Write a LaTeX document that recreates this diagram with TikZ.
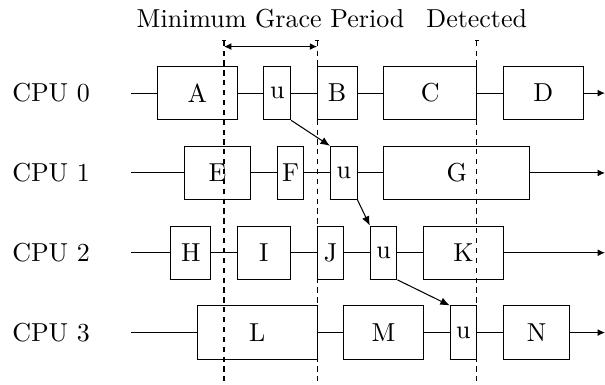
\documentclass[tikz,border=0pt]{standalone}
\usepackage{tikz}
\usetikzlibrary{arrows.meta, positioning}
\tikzset{
    box_slice/.style={
        rectangle, draw=black, line width=0.4pt,
        minimum height=0.72cm, inner sep=0pt,
        align=center, font=\normalsize
    },
    box_span/.style={minimum width=#1*0.36cm},
    cpu_label/.style={font=\normalsize, inner sep=0pt},
    time_line/.style={draw=black, line width=0.4pt},
    time_arrow/.style={-{Latex[length=2.8pt, width=2.6pt]}, draw=black, line width=0.4pt},
    qs_arrow/.style={-{Latex[length=3.6pt, width=3pt]}, draw=black, line width=0.4pt},
    gp_line/.style={{Bar[width=1.5pt]}-, dash pattern=on 2pt off 1.8pt, draw=black, line width=0.4pt},
    gp_arrow/.style={{Latex[length=2.8pt, width=2.6pt]}-{Latex[length=2.8pt, width=2.6pt]}, line width=0.4pt}
}

\begin{document}
\begin{tikzpicture}[x=0.36cm, y=0.36cm]

    \useasboundingbox (-4.92, 3.5) rectangle (17.82, -10.94);

    % header
    \node[anchor=base] (gp_title) at (5.25, 2.45) {Minimum Grace Period};
    \node[anchor=base] (det_title) at (13, 2.45) {Detected};

    % cpu rows
    \node[cpu_label] (cpu0) at (-3, 0) {CPU 0};
    \node[cpu_label] (cpu1) at (-3, -3) {CPU 1};
    \node[cpu_label] (cpu2) at (-3, -6) {CPU 2};
    \node[cpu_label] (cpu3) at (-3, -9) {CPU 3};

    \coordinate (s0) at (0, 0);
    \coordinate (s1) at (0, -3);
    \coordinate (s2) at (0, -6);
    \coordinate (s3) at (0, -9);
    \coordinate (e0) at (17.82, 0);
    \coordinate (e1) at (17.82, -3);
    \coordinate (e2) at (17.82, -6);
    \coordinate (e3) at (17.82, -9);

    % CPU 0
    \node[box_slice, box_span=3] (a) at (2.5, 0) {A};
    \node[box_slice, box_span=1] (u0) at (5.5, 0) {u};
    \node[box_slice, box_span=1.5] (b) at (7.75, 0) {B};
    \node[box_slice, box_span=3.5] (c) at (11.25, 0) {C};
    \node[box_slice, box_span=3] (d) at (15.5, 0) {D};

    % CPU 1
    \node[box_slice, box_span=2.5] (e) at (3.25, -3) {E};
    \node[box_slice, box_span=1] (f) at (6, -3) {F};
    \node[box_slice, box_span=1] (u1) at (8, -3) {u};
    \node[box_slice, box_span=5.5] (g) at (12.25, -3) {G};

    % CPU 2
    \node[box_slice, box_span=1.5] (h) at (2.25, -6) {H};
    \node[box_slice, box_span=2] (i) at (5, -6) {I};
    \node[box_slice, box_span=1] (j) at (7.5, -6) {J};
    \node[box_slice, box_span=1] (u2) at (9.5, -6) {u};
    \node[box_slice, box_span=3] (k) at (12.5, -6) {K};

    % CPU 3
    \node[box_slice, box_span=4.5] (l) at (4.75, -9) {L};
    \node[box_slice, box_span=3] (m) at (9.5, -9) {M};
    \node[box_slice, box_span=1] (u3) at (12.5, -9) {u};
    \node[box_slice, box_span=2.5] (n) at (15.25, -9) {N};

    \draw[time_line] (s0) -- (a);
    \draw[time_line] (a) -- (u0);
    \draw[time_line] (u0) -- (b);
    \draw[time_line] (b) -- (c);
    \draw[time_line] (c) -- (d);
    \draw[time_arrow] (d) -- (e0);

    \draw[time_line] (s1) -- (e);
    \draw[time_line] (e) -- (f);
    \draw[time_line] (f) -- (u1);
    \draw[time_line] (u1) -- (g);
    \draw[time_arrow] (g) -- (e1);

    \draw[time_line] (s2) -- (h);
    \draw[time_line] (h) -- (i);
    \draw[time_line] (i) -- (j);
    \draw[time_line] (j) -- (u2);
    \draw[time_line] (u2) -- (k);
    \draw[time_arrow] (k) -- (e2);

    \draw[time_line] (s3) -- (l);
    \draw[time_line] (l) -- (m);
    \draw[time_line] (m) -- (u3);
    \draw[time_line] (u3) -- (n);
    \draw[time_arrow] (n) -- (e3);

    % quiescent-state chain
    \draw[qs_arrow] (u0.south east) -- (u1.north west);
    \draw[qs_arrow] (u1.south east) -- (u2.north west);
    \draw[qs_arrow] (u2.south east) -- (u3.north west);

    % grace period markers
    \coordinate (gp_start_top) at (3.5, 2);
    \coordinate (gp_start_bot) at (3.5, -11);
    \coordinate (gp_min_top) at (7, 2);
    \coordinate (gp_min_bot) at (7, -11);
    \coordinate (gp_det_top) at (13, 2);
    \coordinate (gp_det_bot) at (13, -11);
    \coordinate (gp_l) at (3.5, 1.75);
    \coordinate (gp_r) at (7, 1.75);

    \draw[gp_line] (gp_start_top) -- (gp_start_bot);
    \draw[gp_line] (gp_min_top) -- (gp_min_bot);
    \draw[gp_line] (gp_det_top) -- (gp_det_bot);
    \draw[gp_arrow] (gp_l) -- (gp_r);

\end{tikzpicture}
\end{document}
